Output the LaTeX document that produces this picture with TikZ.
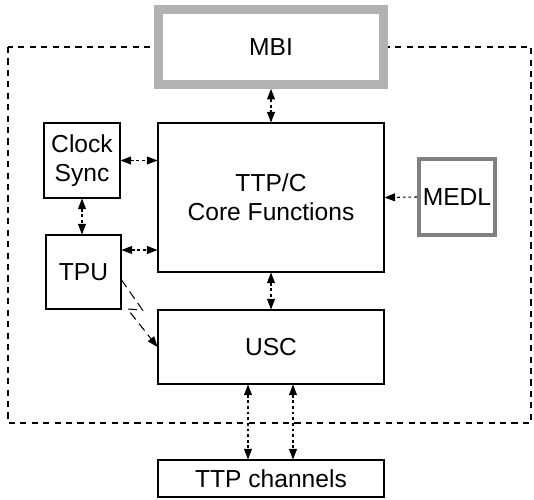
\documentclass[tikz,border=0pt]{standalone}
\usepackage{fontspec}
\setmainfont{Liberation Sans}
\usetikzlibrary{arrows.meta}

\begin{document}
\begin{tikzpicture}[x=0.02cm, y=-0.02cm,
    >={Triangle[length=6pt,width=4.5pt]},
    box/.style={draw, fill=white, line width=0.6pt, align=center, inner sep=0pt,
        font=\fontsize{14}{16.5}\selectfont},
    biarrow/.style={<->, line width=0.6pt, dash pattern=on 1.6pt off 1.6pt}]

\useasboundingbox (0,0) rectangle (534,500);

    % Bingkai putus-putus
    \draw[line width=0.6pt, dash pattern=on 3.5pt off 3pt] (8,47) rectangle (531,423);

    % Simpul
    \node[box, draw=gray!60, line width=5pt, minimum width=4.49cm, minimum height=1.5cm] (mbi) at (271,47) {MBI};
    \node[box, minimum width=4.52cm, minimum height=2.98cm] (core) at (271,197.5) {TTP/C\\Core Functions};
    \node[box, minimum width=1.52cm, minimum height=1.5cm] (clock) at (82,160.5) {Clock\\Sync};
    \node[box, minimum width=1.5cm, minimum height=1.48cm] (tpu) at (83.5,272) {TPU};
    \node[box, minimum width=4.52cm, minimum height=1.48cm] (usc) at (271,347) {USC};
    \node[box, minimum width=4.52cm, minimum height=0.74cm] (ttp) at (271,478.5) {TTP channels};
    \node[box, draw=black!50, line width=2.5pt, minimum width=1.52cm, minimum height=1.52cm] (medl) at (457,197) {MEDL};

    % Titik bantu
    \coordinate (t1) at ([yshift=0.44cm]tpu.east);
    \coordinate (t2) at ([yshift=-0.16cm]tpu.east);
    \coordinate (u1) at ([xshift=-0.46cm]usc.south);
    \coordinate (u2) at ([xshift=0.44cm]usc.south);

    % Sisi
    \draw[biarrow] (mbi.south) -- (core.north);
    \draw[biarrow] (clock.east) -- (clock.east -| core.west);
    \draw[biarrow] (t1) -- (t1 -| core.west);
    \draw[biarrow] (clock.south) -- (clock.south |- tpu.north);
    \draw[biarrow] (core.south) -- (usc.north);
    \draw[biarrow] (u1) -- (u1 |- ttp.north);
    \draw[biarrow] (u2) -- (u2 |- ttp.north);
    \draw[->, line width=0.6pt, dash pattern=on 1.6pt off 1.6pt] (medl.west) -- (core.east);
    \draw[->, line width=0.6pt, dash pattern=on 5pt off 3pt] (t2) -- ++(21,30) -- ++(-15,-1) -- (usc.west);

\end{tikzpicture}
\end{document}
